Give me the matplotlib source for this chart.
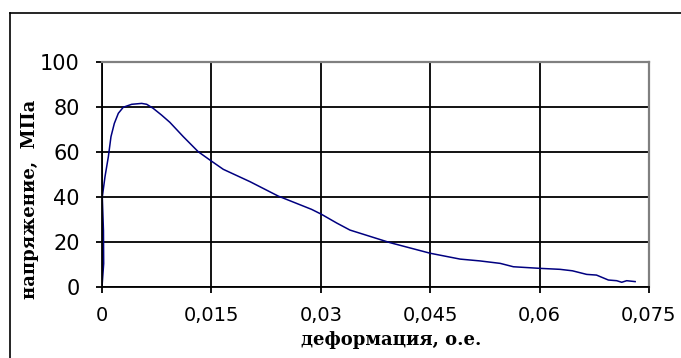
import matplotlib
matplotlib.use("Agg")
import matplotlib.pyplot as plt
from matplotlib.lines import Line2D

# Stress-strain curve
strain = [0, 0.00023, 0.0002, 0.00004, 0.00041, 0.00087, 0.00123, 0.00169,
          0.00224, 0.00292, 0.00407, 0.00544, 0.00613, 0.00702, 0.00817,
          0.0093, 0.01115, 0.0132, 0.01494, 0.01663, 0.0203, 0.02417,
          0.02874, 0.0301, 0.0322, 0.034, 0.0395, 0.045, 0.0491, 0.0518,
          0.0546, 0.0564, 0.05996, 0.0628, 0.0645, 0.06646, 0.0678, 0.06943,
          0.07057, 0.07126, 0.07194, 0.0731]
stress = [0, 10.4, 25, 40, 49, 57.9, 66.8, 72.7,
          77.2, 79.9, 81.2, 81.6, 81.2, 79.4, 76.4,
          73.2, 66.8, 60.1, 56.1, 52.3, 46.8, 40.4,
          34.5, 32.3, 28.4, 25.3, 19.7, 15, 12.4, 11.6,
          10.5, 9.0, 8.3, 7.85, 7.2, 5.6, 5.3, 3.1,
          2.8, 2.1, 2.8, 2.4]

xticks = [0, 0.015, 0.03, 0.045, 0.06, 0.075]
xtick_labels = ["0", "0,015", "0,03", "0,045", "0,06", "0,075"]
yticks = [0, 20, 40, 60, 80, 100]

W, H = 681, 358
fig = plt.figure(figsize=(W / 100, H / 100), dpi=100)
ax = fig.add_axes([102 / W, 1 - 287 / H, (649 - 102) / W, (287 - 62) / H])

ax.plot(strain, stress, color="#000080", lw=1.1, solid_joinstyle="round")

ax.set_xlim(0, 0.075)
ax.set_ylim(0, 100)
ax.set_xticks(xticks)
ax.set_xticklabels(xtick_labels)
ax.set_yticks(yticks)

ax.grid(True, color="black", lw=1.3)
ax.set_axisbelow(True)
for side in ("left", "bottom"):
    ax.spines[side].set_color("black")
    ax.spines[side].set_linewidth(1.3)
for side in ("top", "right"):
    ax.spines[side].set_color("#808080")
    ax.spines[side].set_linewidth(1.6)

ax.tick_params(axis="both", direction="out", length=4, width=1.3,
               color="black")
ax.tick_params(axis="y", pad=12, labelsize=15)
ax.tick_params(axis="x", pad=10, labelsize=14)
for lbl in ax.get_xticklabels() + ax.get_yticklabels():
    lbl.set_fontfamily("DejaVu Sans")

label_font = dict(family="DejaVu Serif", weight="bold", fontsize=13)
fig.text(391 / W, 1 - 340 / H, "деформация, о.е.", ha="center", va="center",
         **label_font)
fig.text(30 / W, 1 - 199 / H, "напряжение,  МПа", ha="center", va="center",
         rotation=90, **label_font)

# outer chart frame
fig.add_artist(Line2D([10 / W, 1.0], [1 - 13 / H, 1 - 13 / H],
                      transform=fig.transFigure, color="black", lw=1.2))
fig.add_artist(Line2D([10 / W, 10 / W], [1 - 13 / H, 0],
                      transform=fig.transFigure, color="black", lw=1.2))

fig.savefig("out.png", dpi=100)
